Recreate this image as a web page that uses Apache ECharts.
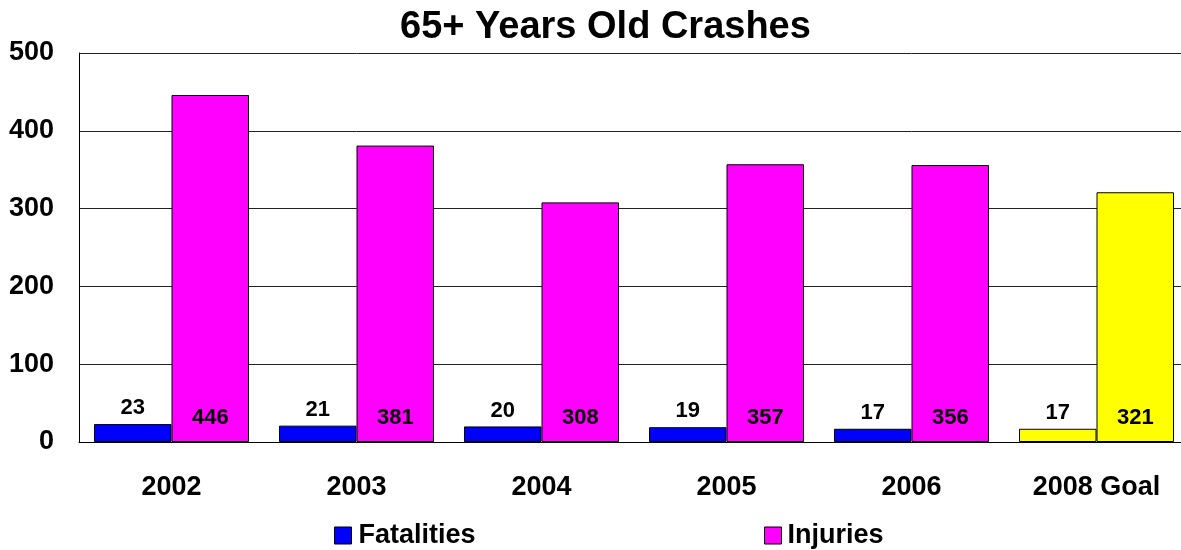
<!DOCTYPE html>
<html>
<head>
<meta charset="utf-8">
<script src="https://cdn.jsdelivr.net/npm/echarts@6/dist/echarts.min.js"></script>
<style>
  html, body { margin: 0; padding: 0; background: #fff; overflow: hidden; }
  /* the plot runs a little past the visible right edge */
  #chart { width: 1189px; height: 550px; }
</style>
</head>
<body>
<div id="chart"></div>
<script>
// Crash counts for drivers aged 65 and over
const categories = ['2002', '2003', '2004', '2005', '2006', '2008 Goal'];
const fatalities = [23, 21, 20, 19, 17, 17];
const injuries = [446, 381, 308, 357, 356, 321];
const yTicks = [0, 100, 200, 300, 400, 500];

const FONT = '"Liberation Sans", Arial, sans-serif';
const BLUE = '#0000FF';
const MAGENTA = '#FF00FF';
const YELLOW = '#FFFF00';
const goalIndex = categories.length - 1;

// Goal column is drawn in yellow for both series
function withGoalColour(values) {
  return values.map((v, i) => i === goalIndex ? { value: v, itemStyle: { color: YELLOW } } : v);
}

const labelBase = {
  show: true,
  color: '#000',
  fontFamily: FONT,
  fontWeight: 'bold',
  fontSize: 22
};

const chart = echarts.init(document.getElementById('chart'), null, { renderer: 'canvas' });
chart.setOption({
  animation: false,
  backgroundColor: '#fff',
  textStyle: { fontFamily: FONT },
  title: {
    text: '65+ Years Old Crashes',
    left: 395,
    top: 4,
    textStyle: { fontFamily: FONT, fontWeight: 'bold', fontSize: 38, color: '#000' }
  },
  legend: [
    {
      data: ['Fatalities'],
      left: 329, top: 517,
      itemWidth: 17, itemHeight: 17,
      icon: 'rect',
      itemStyle: { borderColor: '#000', borderWidth: 1 },
      textStyle: { fontFamily: FONT, fontWeight: 'bold', fontSize: 27, color: '#000', padding: [0, 0, 0, 2] }
    },
    {
      data: ['Injuries'],
      left: 759, top: 517,
      itemWidth: 17, itemHeight: 17,
      icon: 'rect',
      itemStyle: { borderColor: '#000', borderWidth: 1 },
      textStyle: { fontFamily: FONT, fontWeight: 'bold', fontSize: 27, color: '#000', padding: [0, 0, 0, 1] }
    }
  ],
  grid: { left: 79, top: 53, right: 0, height: 389, containLabel: false },
  xAxis: {
    type: 'category',
    data: categories,
    axisLine: { show: true, lineStyle: { color: '#000', width: 1 } },
    axisTick: { show: false },
    axisLabel: { margin: 32, color: '#000', fontFamily: FONT, fontWeight: 'bold', fontSize: 27 }
  },
  yAxis: {
    type: 'value',
    min: yTicks[0],
    max: yTicks[yTicks.length - 1],
    interval: yTicks[1] - yTicks[0],
    axisLine: { show: true, lineStyle: { color: '#000', width: 1 } },
    axisTick: { show: false },
    splitLine: { show: true, lineStyle: { color: '#222', width: 1 } },
    axisLabel: { margin: 25, color: '#000', fontFamily: FONT, fontWeight: 'bold', fontSize: 27 }
  },
  series: [
    {
      name: 'Fatalities',
      type: 'bar',
      data: withGoalColour(fatalities),
      barWidth: '41.9%',
      barGap: '0%',
      itemStyle: { color: BLUE, borderColor: '#000', borderWidth: 1 },
      label: Object.assign({}, labelBase, { position: 'top', distance: 5 })
    },
    {
      name: 'Injuries',
      type: 'bar',
      data: withGoalColour(injuries),
      barWidth: '41.9%',
      barGap: '0%',
      itemStyle: { color: MAGENTA, borderColor: '#000', borderWidth: 1 },
      label: Object.assign({}, labelBase, { position: 'insideBottom', distance: 13 })
    }
  ]
});
</script>
</body>
</html>
